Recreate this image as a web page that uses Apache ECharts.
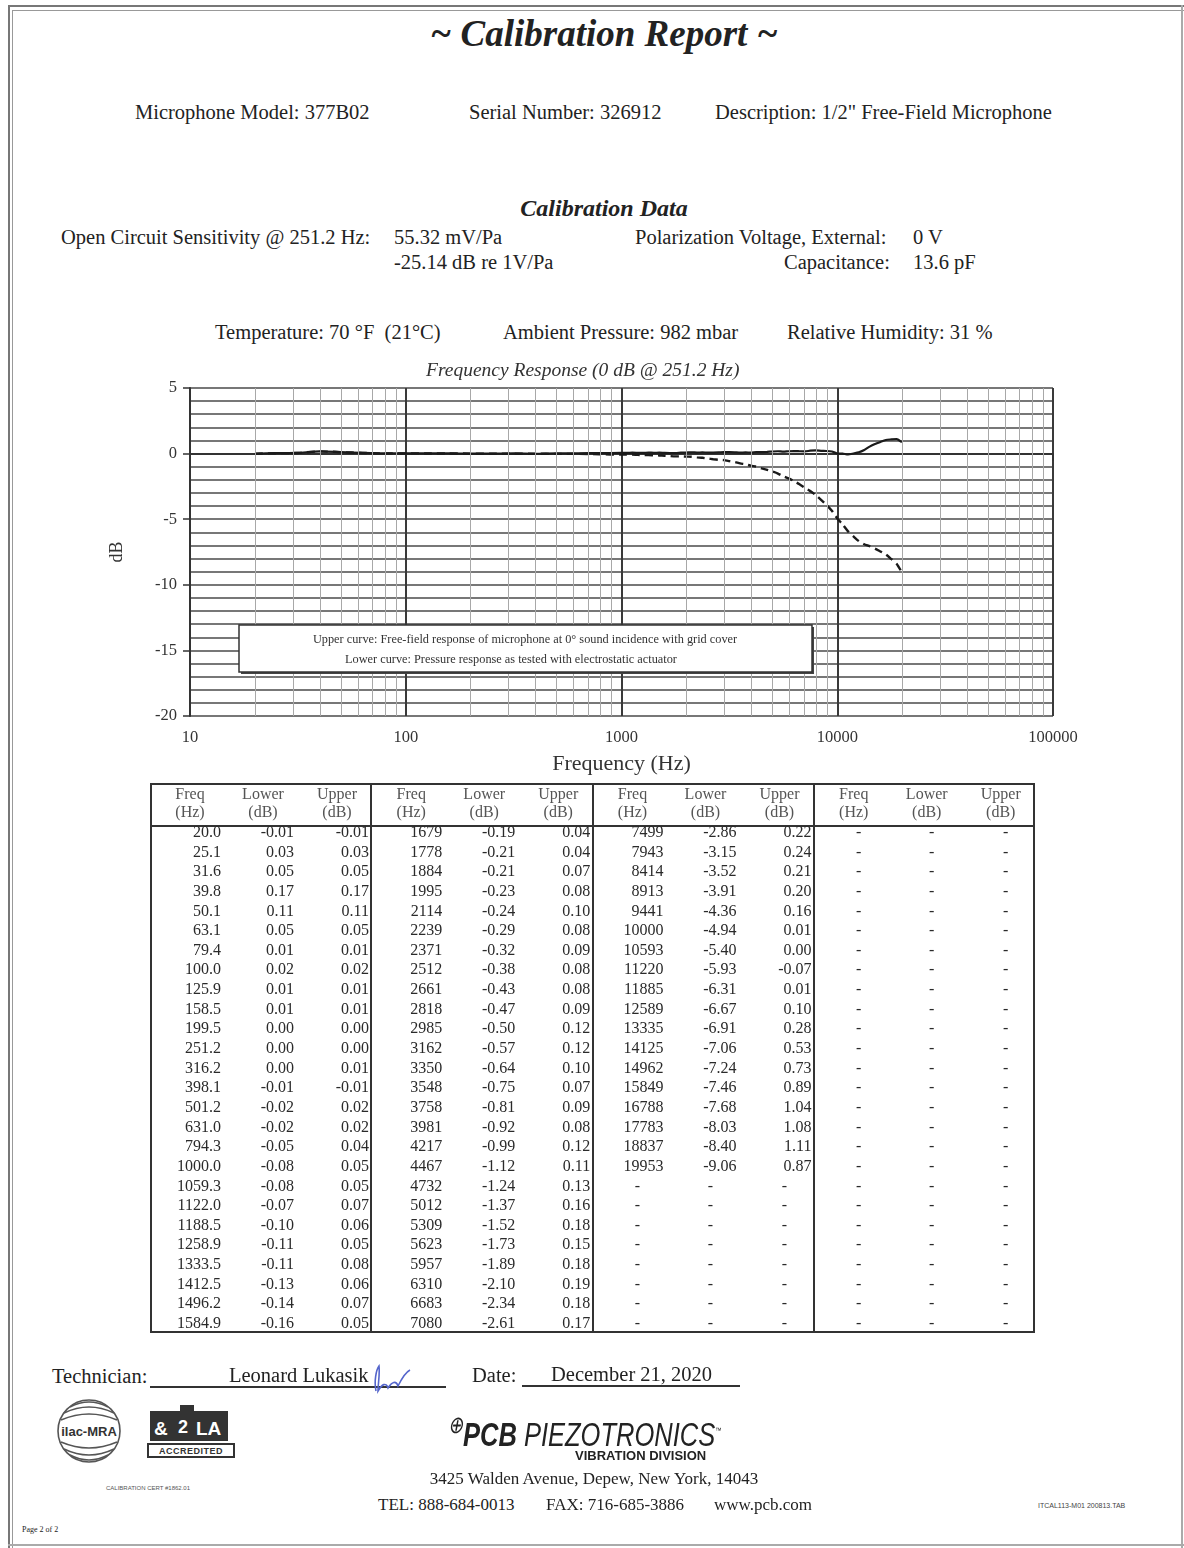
<!DOCTYPE html>
<html>
<head>
<meta charset="utf-8">
<script src="https://cdn.jsdelivr.net/npm/echarts@6/dist/echarts.min.js"></script>
<style>
  body { margin: 0; background: #fff; }
  #page {
    position: relative;
    width: 1184px;
    height: 1548px;
    overflow: hidden;
    font-family: "Liberation Serif", "Times New Roman", serif;
    color: #222;
  }
  .t { position: absolute; white-space: nowrap; line-height: 1; transform: translateY(-50%); font-size: 20.5px; }
  .c { transform: translate(-50%, -50%); }
  .bi { font-weight: bold; font-style: italic; }
  .ln { position: absolute; background: #333; }
  #chart { position: absolute; left: 0; top: 340px; width: 1184px; height: 450px; }
  .cell { position: absolute; white-space: nowrap; line-height: 1; font-size: 16px; color: #2a2a2a; transform: translateY(-50%); }
</style>
</head>
<body>
<div id="page">
  <!-- page edges from the scan -->
  <div class="ln" style="left:8px;top:5px;width:1176px;height:2px;background:#777"></div>
  <div class="ln" style="left:12px;top:10px;width:1172px;height:1px;background:#999"></div>
  <div class="ln" style="left:8px;top:5px;width:2px;height:1543px;background:#777"></div>
  <div class="ln" style="left:12px;top:10px;width:1px;height:1538px;background:#999"></div>
  <div class="ln" style="left:1181px;top:5px;width:2px;height:1543px;background:#aaa"></div>
  <div class="ln" style="left:8px;top:1544px;width:1176px;height:2px;background:#aaa"></div>

  <div class="t c bi" style="left:604px;top:33px;font-size:37px;">~ Calibration Report ~</div>

  <div class="t" style="left:135px;top:112px;">Microphone Model: 377B02</div>
  <div class="t" style="left:469px;top:112px;">Serial Number: 326912</div>
  <div class="t" style="left:715px;top:112px;">Description: 1/2" Free-Field Microphone</div>

  <div class="t c bi" style="left:604px;top:208px;font-size:24px;">Calibration Data</div>
  <div class="t" style="left:61px;top:237px;">Open Circuit Sensitivity @ 251.2 Hz:</div>
  <div class="t" style="left:394px;top:237px;">55.32 mV/Pa</div>
  <div class="t" style="left:394px;top:262px;">-25.14 dB re 1V/Pa</div>
  <div class="t" style="left:635px;top:237px;">Polarization Voltage, External:</div>
  <div class="t" style="left:913px;top:237px;">0 V</div>
  <div class="t" style="left:784px;top:262px;">Capacitance:</div>
  <div class="t" style="left:913px;top:262px;">13.6 pF</div>

  <div class="t" style="left:215px;top:332px;">Temperature: 70 °F&nbsp;&nbsp;(21°C)</div>
  <div class="t" style="left:503px;top:332px;">Ambient Pressure: 982 mbar</div>
  <div class="t" style="left:787px;top:332px;">Relative Humidity: 31 %</div>

  <div id="chart"></div>

  <div id="table"></div>

  <!-- signature block -->
  <div class="t" style="left:52px;top:1376px;">Technician:</div>
  <div class="ln" style="left:150px;top:1386px;width:296px;height:2px;"></div>
  <div class="t" style="left:229px;top:1375px;">Leonard Lukasik</div>
  <svg style="position:absolute;left:370px;top:1364px" width="44" height="30">
    <path d="M6 27 C 4 18, 6 6, 9 2 C 10 10, 8 20, 8 27 C 12 20, 16 18, 18 24 C 22 18, 26 16, 28 22 C 32 14, 36 8, 40 6"
          fill="none" stroke="#5566cc" stroke-width="1.6"/>
  </svg>
  <div class="t" style="left:472px;top:1375px;">Date:</div>
  <div class="ln" style="left:522px;top:1385px;width:218px;height:2px;"></div>
  <div class="t" style="left:551px;top:1374px;">December 21, 2020</div>

  <!-- accreditation marks -->
  <svg style="position:absolute;left:50px;top:1393px" width="200" height="80">
    <g fill="none" stroke="#555" stroke-width="1.6">
      <circle cx="39" cy="38" r="31"/>
      <path d="M14 20 Q39 8 64 20"/><path d="M11 27 Q39 15 67 27"/>
      <path d="M14 56 Q39 68 64 56"/><path d="M11 49 Q39 61 67 49"/>
      <path d="M20 14 Q39 4 58 14"/><path d="M20 62 Q39 72 58 62"/>
    </g>
    <text x="39" y="43" text-anchor="middle" font-family="Liberation Sans" font-weight="bold" font-size="13" fill="#333">ilac-MRA</text>
    <path d="M100 18 h30 v-6 h14 v6 h34 v30 h-78 z" fill="#333"/>
    <text x="104" y="42" font-family="Liberation Sans" font-weight="bold" font-size="19" fill="#fff">&amp;</text>
    <text x="146" y="42" font-family="Liberation Sans" font-weight="bold" font-size="19" fill="#fff">LA</text>
    <text x="128" y="40" font-family="Liberation Sans" font-weight="bold" font-size="18" fill="#fff">2</text>
    <rect x="98" y="51" width="86" height="13" fill="#fff" stroke="#333" stroke-width="2"/>
    <text x="141" y="61" text-anchor="middle" font-family="Liberation Sans" font-weight="bold" font-size="9" fill="#333" letter-spacing="0.5">ACCREDITED</text>
  </svg>
  <div class="t c" style="left:148px;top:1488px;font-size:6px;font-family:'Liberation Sans';color:#555;">CALIBRATION CERT #1862.01</div>

  <!-- company block -->
  <div class="t" style="left:448px;top:1432px;font-size:34px;font-family:'Liberation Sans';font-style:italic;color:#222;transform:translateY(-50%) scaleX(0.75);transform-origin:left center;">
    <span style="font-size:24px;vertical-align:super;">&#8853;</span><b>PCB</b> PIEZOTRONICS<span style="font-size:8px;vertical-align:super;">™</span>
  </div>
  <div class="t" style="left:575px;top:1455px;font-size:13px;font-family:'Liberation Sans';font-weight:bold;color:#222;">VIBRATION DIVISION</div>
  <div class="t c" style="left:594px;top:1478px;font-size:17px;">3425 Walden Avenue, Depew, New York, 14043</div>
  <div class="t" style="left:378px;top:1504px;font-size:17px;">TEL: 888-684-0013</div>
  <div class="t" style="left:546px;top:1504px;font-size:17px;">FAX: 716-685-3886</div>
  <div class="t" style="left:714px;top:1504px;font-size:17px;">www.pcb.com</div>
  <div class="t" style="left:1038px;top:1505px;font-size:7px;font-family:'Liberation Sans';color:#444;">ITCAL113-M01 200813.TAB</div>
  <div class="t" style="left:22px;top:1530px;font-size:8px;">Page 2 of 2</div>
</div>

<script>
// calibration table: frequency (Hz), pressure response (lower curve), free-field response (upper curve)
const freqHz = [
  20.0, 25.1, 31.6, 39.8, 50.1, 63.1, 79.4, 100.0, 125.9, 158.5, 199.5, 251.2, 316.2,
  398.1, 501.2, 631.0, 794.3, 1000.0, 1059.3, 1122.0, 1188.5, 1258.9, 1333.5, 1412.5, 1496.2, 1584.9,
  1679, 1778, 1884, 1995, 2114, 2239, 2371, 2512, 2661, 2818, 2985, 3162, 3350,
  3548, 3758, 3981, 4217, 4467, 4732, 5012, 5309, 5623, 5957, 6310, 6683, 7080,
  7499, 7943, 8414, 8913, 9441, 10000, 10593, 11220, 11885, 12589, 13335, 14125, 14962,
  15849, 16788, 17783, 18837, 19953
];
const lowerDb = [
  -0.01, 0.03, 0.05, 0.17, 0.11, 0.05, 0.01, 0.02, 0.01, 0.01, 0.00, 0.00, 0.00,
  -0.01, -0.02, -0.02, -0.05, -0.08, -0.08, -0.07, -0.10, -0.11, -0.11, -0.13, -0.14, -0.16,
  -0.19, -0.21, -0.21, -0.23, -0.24, -0.29, -0.32, -0.38, -0.43, -0.47, -0.50, -0.57, -0.64,
  -0.75, -0.81, -0.92, -0.99, -1.12, -1.24, -1.37, -1.52, -1.73, -1.89, -2.10, -2.34, -2.61,
  -2.86, -3.15, -3.52, -3.91, -4.36, -4.94, -5.40, -5.93, -6.31, -6.67, -6.91, -7.06, -7.24,
  -7.46, -7.68, -8.03, -8.40, -9.06
];
const upperDb = [
  -0.01, 0.03, 0.05, 0.17, 0.11, 0.05, 0.01, 0.02, 0.01, 0.01, 0.00, 0.00, 0.01,
  -0.01, 0.02, 0.02, 0.04, 0.05, 0.05, 0.07, 0.06, 0.05, 0.08, 0.06, 0.07, 0.05,
  0.04, 0.04, 0.07, 0.08, 0.10, 0.08, 0.09, 0.08, 0.08, 0.09, 0.12, 0.12, 0.10,
  0.07, 0.09, 0.08, 0.12, 0.11, 0.13, 0.16, 0.18, 0.15, 0.18, 0.19, 0.18, 0.17,
  0.22, 0.24, 0.21, 0.20, 0.16, 0.01, 0.00, -0.07, 0.01, 0.10, 0.28, 0.53, 0.73,
  0.89, 1.04, 1.08, 1.11, 0.87
];
const legendLines = [
  'Upper curve: Free-field response of microphone at 0° sound incidence with grid cover',
  'Lower curve: Pressure response as tested with electrostatic actuator'
];
const tableHead = [['Freq', '(Hz)'], ['Lower', '(dB)'], ['Upper', '(dB)']];

const SERIF = '"Liberation Serif", "Times New Roman", serif';

// log paper: light lines at 2..9 of every decade
const minorLines = [];
for (let d = 10; d < 100000; d *= 10) {
  for (let k = 2; k <= 9; k++) minorLines.push({ xAxis: k * d });
}

const chart = echarts.init(document.getElementById('chart'));
chart.setOption({
  animation: false,
  title: {
    text: 'Frequency Response (0 dB @ 251.2 Hz)',
    left: 421,
    top: 16,
    textStyle: { fontFamily: SERIF, fontStyle: 'italic', fontWeight: 'normal', fontSize: 19.5, color: '#333' }
  },
  grid: { left: 190, right: 131, top: 48, bottom: 74 },
  xAxis: {
    type: 'log',
    logBase: 10,
    min: 10,
    max: 100000,
    name: 'Frequency (Hz)',
    nameLocation: 'middle',
    nameGap: 37,
    nameTextStyle: { fontFamily: SERIF, fontSize: 22, color: '#333' },
    axisLine: { lineStyle: { color: '#333', width: 2 } },
    axisTick: { show: true, length: 7, lineStyle: { color: '#333', width: 2 } },
    axisLabel: {
      margin: 13,
      fontFamily: SERIF,
      fontSize: 16.5,
      color: '#333',
      formatter: v => String(Math.round(v))
    },
    splitLine: { show: true, lineStyle: { color: '#3a3a3a', width: 2 } }
  },
  yAxis: [
    {
      type: 'value',
      min: -20,
      max: 5,
      interval: 1,
      axisLine: { show: true, lineStyle: { color: '#333', width: 2 } },
      axisTick: { show: false },
      axisLabel: { show: false },
      splitLine: { show: true, lineStyle: { color: '#4a4a4a', width: 1.5 } }
    },
    {
      type: 'value',
      min: -20,
      max: 5,
      interval: 5,
      position: 'left',
      name: 'dB',
      nameLocation: 'middle',
      nameGap: 64,
      nameTextStyle: { fontFamily: SERIF, fontSize: 18, color: '#333' },
      axisLine: { show: false },
      axisTick: { show: true, length: 7, lineStyle: { color: '#333', width: 1.5 } },
      axisLabel: { margin: 13, fontFamily: SERIF, fontSize: 16.5, color: '#333' },
      splitLine: { show: false }
    }
  ],
  graphic: [
    { type: 'rect', shape: { x: 241, y: 287, width: 573, height: 47 }, style: { fill: '#444' }, z: 10 },
    { type: 'rect', shape: { x: 239, y: 285, width: 573, height: 47 }, style: { fill: '#fff', stroke: '#333', lineWidth: 1.5 }, z: 11 },
    { type: 'text', x: 525, y: 300, style: { text: legendLines[0], fontFamily: SERIF, fontSize: 12.3, fill: '#333', align: 'center', verticalAlign: 'middle' }, z: 12 },
    { type: 'text', x: 511, y: 320, style: { text: legendLines[1], fontFamily: SERIF, fontSize: 12.3, fill: '#333', align: 'center', verticalAlign: 'middle' }, z: 12 }
  ],
  series: [
    {
      type: 'line',
      data: [],
      silent: true,
      z: 1,
      markLine: {
        silent: true,
        symbol: ['none', 'none'],
        label: { show: false },
        lineStyle: { color: '#a8a8a8', width: 1, type: 'solid' },
        emphasis: { disabled: true },
        data: minorLines
      }
    },
    {
      name: 'Lower curve',
      type: 'line',
      data: freqHz.map((f, i) => [f, lowerDb[i]]),
      showSymbol: false,
      smooth: 0.2,
      z: 3,
      lineStyle: { color: '#1a1a1a', width: 2.4, type: [8, 5] }
    },
    {
      name: 'Upper curve',
      type: 'line',
      data: freqHz.map((f, i) => [f, upperDb[i]]),
      showSymbol: false,
      smooth: 0.2,
      z: 4,
      lineStyle: { color: '#1a1a1a', width: 2.2 }
    }
  ]
});

// data table under the chart, built from the same arrays
const tbl = document.getElementById('table');
const TX = 150, TY = 783, TW = 885, TH = 550, GW = 221.25, ROWS = 26, RH = 19.64;
function box(l, t, w, h, bg) {
  const d = document.createElement('div');
  d.className = 'ln';
  d.style.cssText = `left:${l}px;top:${t}px;width:${w}px;height:${h}px;background:${bg || '#333'}`;
  tbl.appendChild(d);
}
function cell(txt, x, y, align, color) {
  const d = document.createElement('div');
  d.className = 'cell';
  d.textContent = txt;
  if (align === 'right') { d.style.right = (1184 - x) + 'px'; }
  else { d.style.left = x + 'px'; d.style.transform = 'translate(-50%,-50%)'; }
  d.style.top = y + 'px';
  if (color) d.style.color = color;
  tbl.appendChild(d);
}
box(TX, TY, TW, 2); box(TX, TY + TH - 2, TW, 2);
box(TX, TY, 2, TH); box(TX + TW - 2, TY, 2, TH);
box(TX, TY + 42, TW, 2);
for (let g = 1; g < 4; g++) box(TX + g * GW - 1, TY, 2, TH);

const headX = [40, 113, 187];
const numX = [71, 144, 219];
const dashX = [45, 118, 192];
for (let g = 0; g < 4; g++) {
  const gx = TX + g * GW;
  tableHead.forEach((h, j) => {
    cell(h[0], gx + headX[j], TY + 11, 'center', '#555');
    cell(h[1], gx + headX[j], TY + 29, 'center', '#555');
  });
  for (let r = 0; r < ROWS; r++) {
    const i = g * ROWS + r;
    const y = TY + 49 + r * RH;
    if (i < freqHz.length) {
      const f = freqHz[i];
      cell(f < 1600 ? f.toFixed(1) : String(f), gx + numX[0], y, 'right');
      cell(lowerDb[i].toFixed(2), gx + numX[1], y, 'right');
      cell(upperDb[i].toFixed(2), gx + numX[2], y, 'right');
    } else {
      dashX.forEach(dx => cell('-', gx + dx, y, 'center'));
    }
  }
}
</script>
</body>
</html>
